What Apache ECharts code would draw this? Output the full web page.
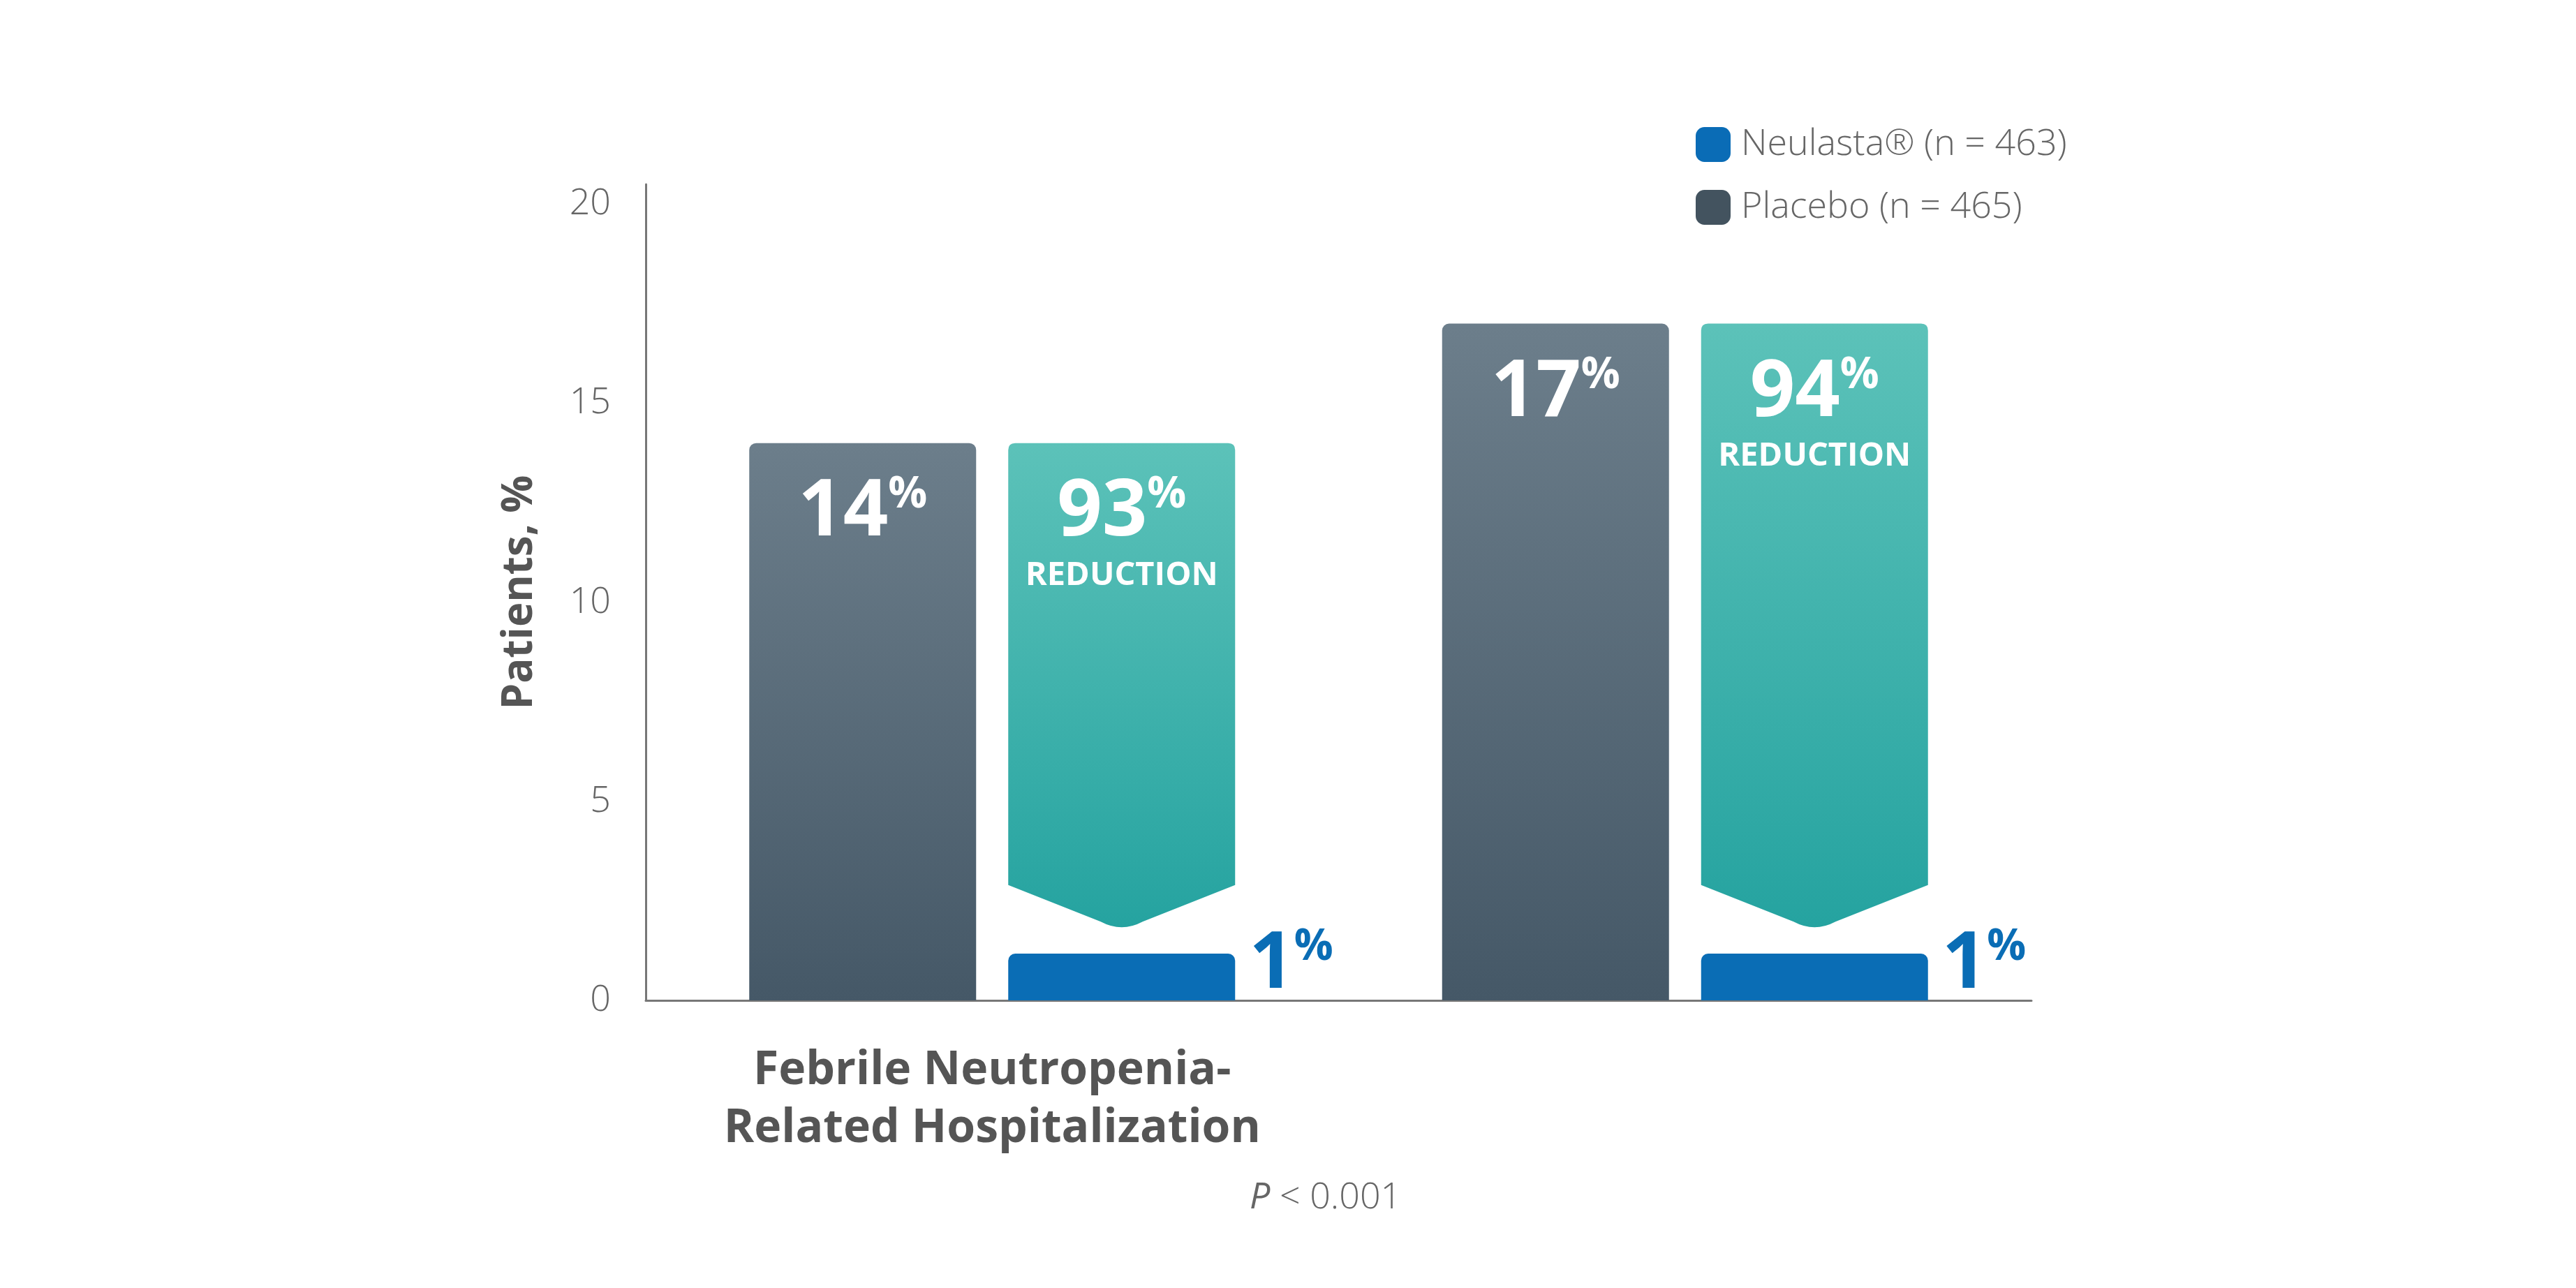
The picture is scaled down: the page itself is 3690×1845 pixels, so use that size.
<!DOCTYPE html>
<html>
<head>
<meta charset="utf-8">
<script src="https://cdn.jsdelivr.net/npm/echarts@6/dist/echarts.min.js"></script>
<style>html,body{margin:0;background:#fff}#chart{width:3690px;height:1845px}</style>
</head>
<body>
<div id="chart"></div>
<script>
var categories = ['Febrile Neutropenia-\nRelated Hospitalization', 'Febrile\nNeutropenia'];
var placebo = [14, 17];
var neulasta = [1, 1];
var reduction = ['93', '94'];
var yTicks = [0, 5, 10, 15, 20];

var FONT = '"Open Sans", sans-serif';
var chart = echarts.init(document.getElementById('chart'));

function pct(num, size, color) {
    return {
        text: '{n|' + num + '}{p|%}',
        rich: {
            n: { fontSize: size, fontWeight: 'bold', fill: color, fontFamily: FONT, verticalAlign: 'bottom' },
            p: { fontSize: size * 0.55, fontWeight: 'bold', fill: color, fontFamily: FONT, verticalAlign: 'top', padding: [0, 0, size * 0.35, 0] }
        }
    };
}

function renderPlacebo(params, api) {
    var i = api.value(0);
    var top = api.coord([i, api.value(1)]);
    var base = api.coord([i, 0]);
    var l = top[0] - 348, w = 325;
    var lab = pct(api.value(1), 113, '#fff');
    return {
        type: 'group',
        children: [{
            type: 'rect',
            shape: { x: l, y: top[1], width: w, height: base[1] - top[1], r: [10, 10, 0, 0] },
            style: { fill: new echarts.graphic.LinearGradient(0, 0, 0, 1, [
                { offset: 0, color: '#6c7e8b' }, { offset: 1, color: '#455867' }]) }
        }, {
            type: 'text',
            x: l + w / 2, y: top[1] + 100,
            style: Object.assign({ align: 'center', verticalAlign: 'middle' }, lab)
        }]
    };
}

function renderNeulasta(params, api) {
    var i = api.value(0);
    var idx = params.dataIndex;
    var v = api.value(1);
    var top = api.coord([i, placebo[idx]]);
    var base = api.coord([i, 0]);
    var bt = api.coord([i, v]);
    var sb = api.coord([i, v + 1.9]);
    var tp = api.coord([i, v + 0.8]);
    var l = top[0] + 23, w = 325, r = l + w, cx = l + w / 2;
    var yT = top[1];
    var path = 'M' + l + ',' + (yT + 10) + ' Q' + l + ',' + yT + ' ' + (l + 10) + ',' + yT +
        ' L' + (r - 10) + ',' + yT + ' Q' + r + ',' + yT + ' ' + r + ',' + (yT + 10) +
        ' L' + r + ',' + sb[1] + ' L' + (cx + 30) + ',' + (tp[1] - 10) +
        ' Q' + cx + ',' + (tp[1] + 6) + ' ' + (cx - 30) + ',' + (tp[1] - 10) +
        ' L' + l + ',' + sb[1] + ' Z';
    var big = pct(reduction[idx], 113, '#fff');
    var small = pct(v, 113, '#0a6db5');
    return {
        type: 'group',
        children: [{
            type: 'path',
            shape: { pathData: path },
            style: { fill: new echarts.graphic.LinearGradient(0, 0, 0, 1, [
                { offset: 0, color: '#5cc2b9' }, { offset: 1, color: '#25a3a0' }]) }
        }, {
            type: 'text', x: cx, y: yT + 100,
            style: Object.assign({ align: 'center', verticalAlign: 'middle' }, big)
        }, {
            type: 'text', x: cx, y: yT + 190,
            style: { text: 'REDUCTION', fontSize: 47, fontWeight: 'bold', fill: '#fff', fontFamily: FONT, align: 'center', verticalAlign: 'middle' }
        }, {
            type: 'rect',
            shape: { x: l, y: bt[1] - 10, width: w, height: base[1] - bt[1] + 10, r: [10, 10, 0, 0] },
            style: { fill: '#0a6db5' }
        }, {
            type: 'text', x: r + 20, y: base[1] - 50,
            style: Object.assign({ align: 'left', verticalAlign: 'middle' }, small)
        }]
    };
}

var option = {
    animation: false,
    grid: { left: 925, top: 264, width: 1985, bottom: 412 },
    legend: {
        orient: 'vertical', left: 2424, top: 176, itemWidth: 50, itemHeight: 50, itemGap: 38,
        icon: 'roundRect',
        textStyle: { fontSize: 52, color: '#666', fontFamily: FONT, fontWeight: 300, padding: [0, 0, 0, 10] },
        data: ['Neulasta® (n = 463)', 'Placebo (n = 465)']
    },
    xAxis: {
        type: 'category', data: categories,
        axisLine: { lineStyle: { color: '#777', width: 3 } },
        axisTick: { show: false },
        axisLabel: { fontSize: 66, fontWeight: 'bold', color: '#555', fontFamily: FONT, lineHeight: 83, margin: 60 }
    },
    yAxis: {
        type: 'value', min: 0, max: 20.5, interval: 5,
        name: 'Patients, %', nameLocation: 'middle', nameGap: 150, nameRotate: 90,
        nameTextStyle: { fontSize: 60, fontWeight: 'bold', color: '#555', fontFamily: FONT },
        axisLine: { show: true, lineStyle: { color: '#777', width: 3 } },
        axisTick: { show: false },
        splitLine: { show: false },
        axisLabel: {
            fontSize: 52, color: '#666', fontFamily: FONT, fontWeight: 300, margin: 50,
            formatter: function (v) { return yTicks.indexOf(v) >= 0 ? String(v) : ''; }
        }
    },
    graphic: [{
        type: 'text', left: 1790, top: 1690,
        style: { text: '{i|P} < 0.001', fontSize: 52, fill: '#666', fontFamily: FONT, fontWeight: 300,
            rich: { i: { fontStyle: 'italic', fontSize: 52, fill: '#666', fontFamily: FONT } } }
    }],
    series: [{
        name: 'Neulasta® (n = 463)', type: 'custom', itemStyle: { color: '#0a6cb6' },
        renderItem: renderNeulasta,
        data: neulasta.map(function (v, i) { return [i, v]; })
    }, {
        name: 'Placebo (n = 465)', type: 'custom', itemStyle: { color: '#43535f' },
        renderItem: renderPlacebo,
        data: placebo.map(function (v, i) { return [i, v]; })
    }]
};
chart.setOption(option);
</script>
</body>
</html>
